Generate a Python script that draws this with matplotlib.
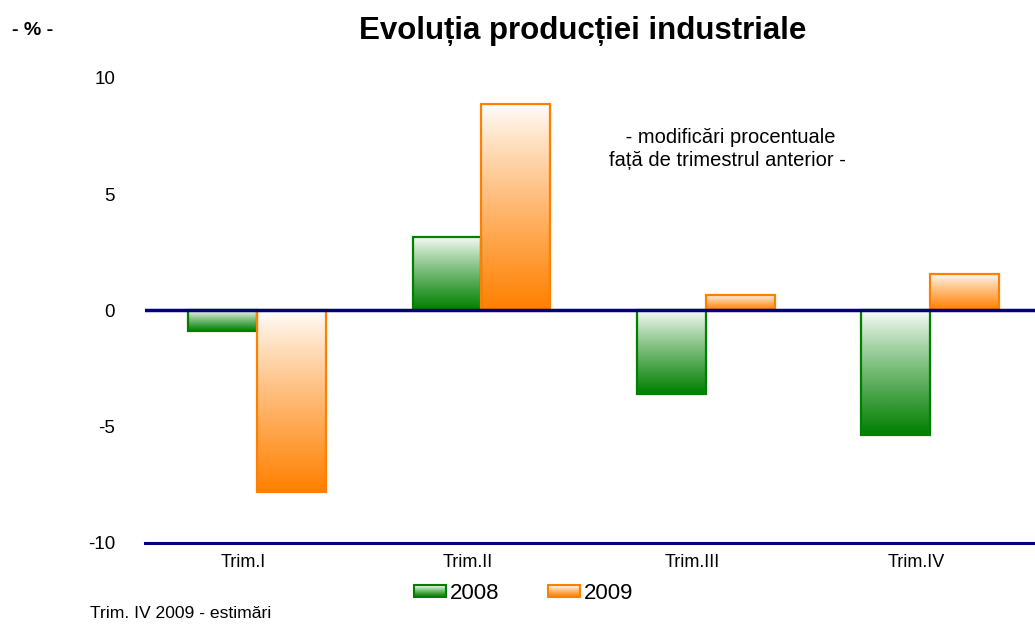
import matplotlib
matplotlib.use("Agg")
import matplotlib.pyplot as plt
import numpy as np
from matplotlib.colors import LinearSegmentedColormap, to_rgb
from matplotlib.legend_handler import HandlerBase
from matplotlib.patches import Rectangle

plt.rcParams["font.family"] = ["Liberation Sans", "DejaVu Sans"]

categories = ["Trim.I", "Trim.II", "Trim.III", "Trim.IV"]
years = ["2008", "2009"]
values_2008 = [-0.9, 3.15, -3.6, -5.35]
values_2009 = [-7.8, 8.9, 0.65, 1.55]

green = "#008000"
orange = "#ff8000"
navy = "#000080"


def gradient_bar(ax, x0, width, value, color):
    # light at the top, full colour at the bottom, like the office chart
    cmap = LinearSegmentedColormap.from_list("g", ["white", color])
    lo, hi = min(0, value), max(0, value)
    grad = (np.linspace(0, 1, 256) ** 0.85).reshape(-1, 1)
    im = ax.imshow(grad, cmap=cmap, aspect="auto", extent=(x0, x0 + width, lo, hi),
                   origin="upper", zorder=2, vmin=0, vmax=1)
    rect = Rectangle((x0, lo), width, hi - lo, facecolor="none", edgecolor=color,
                     linewidth=1.6, zorder=3)
    ax.add_patch(rect)
    im.set_clip_path(rect)


class GradientHandler(HandlerBase):
    def __init__(self, color):
        super().__init__()
        self.color = color

    def create_artists(self, legend, orig_handle, xdescent, ydescent, width, height,
                       fontsize, trans):
        c = np.array(to_rgb(self.color))
        n = 12
        artists = []
        for i in range(n):
            t = (i + 0.5) / n  # 0 bottom .. 1 top
            col = c + (np.ones(3) - c) * (t ** 1.2)
            artists.append(Rectangle((-xdescent, -ydescent + height * i / n), width, height / n,
                                     facecolor=col, edgecolor="none", transform=trans))
        artists.append(Rectangle((-xdescent, -ydescent), width, height, facecolor="none",
                                 edgecolor=self.color, linewidth=1.5, transform=trans))
        return artists


fig = plt.figure(figsize=(10.35, 6.26), dpi=100)
ax = fig.add_axes([0.140, 0.1326, 0.867, 0.7428])

x = np.arange(len(categories))
w = 0.307
for i in range(len(categories)):
    gradient_bar(ax, x[i] - w, w, values_2008[i], green)
    gradient_bar(ax, x[i], w, values_2009[i], orange)

ax.axhline(0, color=navy, linewidth=2.5, zorder=4)
ax.set_xlim(-0.5, 3.5)
ax.set_ylim(-10, 10)
ax.set_yticks([-10, -5, 0, 5, 10])
ax.set_yticklabels(["-10", "-5", "0", "5", "10"])
ax.set_xticks(x - 0.06)
ax.set_xticklabels(categories)
ax.tick_params(axis="y", length=0, pad=21.5, labelsize=13.5)
ax.tick_params(axis="x", length=0, pad=8, labelsize=13)
for s in ["top", "right", "left"]:
    ax.spines[s].set_visible(False)
ax.spines["bottom"].set_color(navy)
ax.spines["bottom"].set_linewidth(2.2)

fig.text(0.563, 0.951, "Evoluția producției industriale", ha="center", va="center",
         fontsize=22.5, fontweight="bold")
fig.text(0.012, 0.951, "- % -", ha="left", va="center", fontsize=14, fontweight="bold")
fig.text(0.703, 0.762, " - modificări procentuale\nfață de trimestrul anterior -", ha="center",
         va="center", fontsize=14.5, linespacing=1.3)
fig.text(0.087, 0.008, "Trim. IV 2009 - estimări", ha="left", va="bottom", fontsize=12.6)

h1 = Rectangle((0, 0), 1, 1)
h2 = Rectangle((0, 0), 1, 1)
fig.legend([h1, h2], years, loc="center", bbox_to_anchor=(0.506, 0.052), ncol=2,
           frameon=False, fontsize=16, handlelength=1.45, handleheight=0.45,
           handletextpad=0.15, columnspacing=2.2,
           handler_map={h1: GradientHandler(green), h2: GradientHandler(orange)})

fig.savefig("out.png", dpi=100)
